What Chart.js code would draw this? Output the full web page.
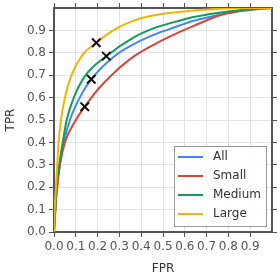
<!DOCTYPE html>
<html>
<head>
<meta charset="utf-8">
<script src="https://cdn.jsdelivr.net/npm/chart.js@4"></script>
<style>
  html, body { margin: 0; padding: 0; background: #fff; }
  #wrap { width: 280px; height: 280px; }
</style>
</head>
<body>
<div id="wrap"><canvas id="roc" width="280" height="280"></canvas></div>
<script>
// ====== Data ======
const seriesNames = ['All', 'Small', 'Medium', 'Large'];
const seriesColors = ['#4285F4', '#DB4437', '#0F9D58', '#F4B400'];

const fprAll = [0, 0.006, 0.013, 0.027, 0.045, 0.073, 0.118, 0.171, 0.277, 0.368, 0.459, 0.55, 0.641, 0.75, 0.85, 0.95, 1.0];
const tprAll = [0, 0.1, 0.2, 0.3, 0.4, 0.5, 0.6, 0.682, 0.785, 0.84, 0.881, 0.913, 0.943, 0.968, 0.985, 0.997, 1.0];

const fprSmall = [0, 0.006, 0.015, 0.027, 0.05, 0.1, 0.141, 0.2, 0.277, 0.368, 0.459, 0.55, 0.641, 0.768, 0.845, 0.92, 1.0];
const tprSmall = [0, 0.1, 0.2, 0.3, 0.4, 0.5, 0.559, 0.635, 0.712, 0.785, 0.837, 0.881, 0.92, 0.97, 0.985, 0.998, 1.0];

const fprMedium = [0, 0.006, 0.012, 0.024, 0.04, 0.058, 0.091, 0.145, 0.24, 0.368, 0.459, 0.55, 0.641, 0.75, 0.85, 0.95, 1.0];
const tprMedium = [0, 0.1, 0.2, 0.3, 0.4, 0.5, 0.6, 0.7, 0.785, 0.87, 0.91, 0.937, 0.96, 0.978, 0.99, 0.998, 1.0];

const fprLarge = [0, 0.003, 0.009, 0.015, 0.021, 0.032, 0.05, 0.08, 0.13, 0.194, 0.277, 0.368, 0.459, 0.55, 0.641, 0.768, 0.85, 1.0];
const tprLarge = [0, 0.1, 0.2, 0.3, 0.4, 0.5, 0.6, 0.7, 0.79, 0.845, 0.903, 0.945, 0.968, 0.98, 0.989, 0.997, 1.0, 1.0];

// operating points (black crosses)
const markerFpr = [0.171, 0.141, 0.24, 0.194];
const markerTpr = [0.682, 0.559, 0.785, 0.845];

const axisTicks = [0, 0.1, 0.2, 0.3, 0.4, 0.5, 0.6, 0.7, 0.8, 0.9];

// ====== Helpers ======
function toPoints(xs, ys) {
    return xs.map((x, i) => ({ x, y: ys[i] }));
}

const FONT = 'DejaVu Sans';
const AXIS = '#555555';
const GRID = '#e3e3e3';

// later series are drawn on top (lower order = drawn last)
const curveSets = [
    [fprAll, tprAll],
    [fprSmall, tprSmall],
    [fprMedium, tprMedium],
    [fprLarge, tprLarge]
].map(([xs, ys], i) => ({
    label: seriesNames[i],
    data: toPoints(xs, ys),
    showLine: true,
    borderColor: seriesColors[i],
    backgroundColor: seriesColors[i],
    borderWidth: 2,
    pointRadius: 0,
    cubicInterpolationMode: 'monotone',
    order: 3 - i,
    inLegend: true
}));

const markerSet = {
    label: 'markers',
    data: toPoints(markerFpr, markerTpr),
    showLine: false,
    pointStyle: 'crossRot',
    pointRadius: 6,
    borderColor: '#111',
    backgroundColor: '#111',
    borderWidth: 2,
    order: -1,
    inLegend: false
};

// legend drawn inside the plot, bottom right
const insideLegend = {
    id: 'insideLegend',
    afterDraw(chart) {
        const { ctx, chartArea } = chart;
        const items = chart.data.datasets.filter(d => d.inLegend);
        const w = 92, rowH = 19, h = items.length * rowH + 4;
        const x0 = chartArea.right - w - 6;
        const y0 = chartArea.bottom - h - 6;
        ctx.save();
        ctx.fillStyle = 'rgba(255,255,255,0.9)';
        ctx.fillRect(x0, y0, w, h);
        ctx.strokeStyle = '#999';
        ctx.lineWidth = 1;
        ctx.strokeRect(x0 + 0.5, y0 + 0.5, w, h);
        ctx.font = '12px "' + FONT + '"';
        ctx.textBaseline = 'middle';
        items.forEach((d, i) => {
            const cy = y0 + 11 + i * rowH;
            ctx.strokeStyle = d.borderColor;
            ctx.lineWidth = 2;
            ctx.beginPath();
            ctx.moveTo(x0 + 4, cy);
            ctx.lineTo(x0 + 29, cy);
            ctx.stroke();
            ctx.fillStyle = '#333';
            ctx.fillText(d.label, x0 + 39, cy);
        });
        ctx.restore();
    }
};

function keepTicks(scale) {
    scale.ticks = axisTicks.map(v => ({ value: v }));
}

function fixSize(prop, size) {
    return s => {
        s[prop] = size;
        s.paddingTop = 0; s.paddingBottom = 0;
        s.paddingLeft = 0; s.paddingRight = 0;
    };
}

new Chart(document.getElementById('roc'), {
    type: 'scatter',
    data: { datasets: [...curveSets, markerSet] },
    options: {
        responsive: false,
        animation: false,
        layout: { padding: 0 },
        plugins: { legend: { display: false }, tooltip: { enabled: false } },
        scales: {
            x: {
                type: 'linear', position: 'bottom', min: 0, max: 1,
                afterBuildTicks: keepTicks,
                afterFit: fixSize('height', 48),
                ticks: {
                    color: AXIS, padding: 3, maxRotation: 0, autoSkip: false,
                    font: { family: FONT, size: 12 },
                    callback: v => v.toFixed(1)
                },
                grid: { color: GRID, tickColor: AXIS, tickLength: 5 },
                border: { color: AXIS, width: 2 },
                title: { display: true, text: 'FPR', color: '#333', font: { family: FONT, size: 12 }, padding: { top: 2 } }
            },
            x2: {
                type: 'linear', position: 'top', min: 0, max: 1,
                afterBuildTicks: keepTicks,
                afterFit: fixSize('height', 6),
                ticks: { display: false },
                grid: { drawOnChartArea: false, tickColor: AXIS, tickLength: 5 },
                border: { color: AXIS, width: 2 }
            },
            y: {
                type: 'linear', position: 'left', min: 0, max: 1,
                afterBuildTicks: keepTicks,
                afterFit: fixSize('width', 54),
                ticks: {
                    color: AXIS, padding: 3, autoSkip: false,
                    font: { family: FONT, size: 12 },
                    callback: v => v.toFixed(1)
                },
                grid: { color: GRID, tickColor: AXIS, tickLength: 5 },
                border: { color: AXIS, width: 2 },
                title: { display: true, text: 'TPR', color: '#333', font: { family: FONT, size: 12 }, padding: { bottom: 2 } }
            },
            y2: {
                type: 'linear', position: 'right', min: 0, max: 1,
                afterBuildTicks: keepTicks,
                afterFit: fixSize('width', 6),
                ticks: { display: false },
                grid: { drawOnChartArea: false, tickColor: AXIS, tickLength: 5 },
                border: { color: AXIS, width: 2 }
            }
        }
    },
    plugins: [insideLegend]
});
</script>
</body>
</html>
